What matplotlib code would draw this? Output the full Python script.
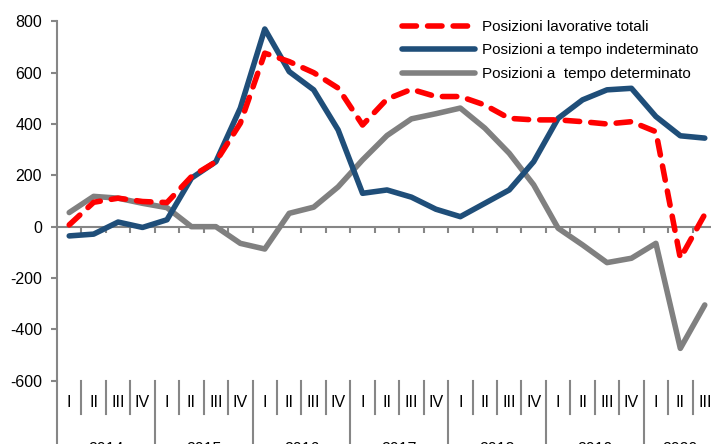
import matplotlib
matplotlib.use("Agg")
import matplotlib.pyplot as plt
from matplotlib.lines import Line2D

plt.rcParams['font.family'] = ['Liberation Sans', 'DejaVu Sans']

quarter_labels = ["I", "II", "III", "IV"] * 6 + ["I", "II", "III"]
years = ["2014", "2015", "2016", "2017", "2018", "2019", "2020"]

totali = [7, 95, 111, 98, 94, 195, 253, 403, 676, 643, 600, 540, 396, 497, 535,
          507, 507, 474, 422, 416, 416, 409, 400, 409, 370, -123, 48]
indeterminato = [-36, -29, 18, -3, 27, 189, 253, 462, 770, 604, 533, 377, 130, 143,
                 115, 68, 39, 91, 143, 253, 422, 494, 533, 539, 429, 354, 345]
determinato = [55, 118, 111, 91, 74, 0, 0, -65, -87, 52, 76, 155, 260, 355, 420,
               440, 462, 384, 286, 163, -6, -71, -140, -123, -65, -474, -305]

labels = ["Posizioni lavorative totali", "Posizioni a tempo indeterminato",
          "Posizioni a  tempo determinato"]

RED = "#FF0000"
BLUE = "#1F4E79"
GRAY = "#808080"
AX = "#868686"

W, H = 711, 444
fig = plt.figure(figsize=(W / 100, H / 100), dpi=100)
left_px, right_px, top_px, bot_px = 57, 717, 21.3, 380.7
ax = fig.add_axes([left_px / W, (H - bot_px) / H, (right_px - left_px) / W,
                   (bot_px - top_px) / H])

n = len(totali)
x = [i + 0.5 for i in range(n)]

lw = 4.0
ax.plot(x, determinato, color=GRAY, lw=lw, solid_capstyle='round', solid_joinstyle='round', zorder=3)
ax.plot(x, indeterminato, color=BLUE, lw=lw, solid_capstyle='round', solid_joinstyle='round', zorder=4)
ax.plot(x, totali, color=RED, lw=lw, dashes=(2.6, 2.0), dash_capstyle='round',
        solid_joinstyle='round', zorder=5)

ax.set_xlim(0, n)
ax.set_ylim(-600, 800)
ax.set_yticks(range(-600, 801, 200))
ax.set_yticklabels([str(v) for v in range(-600, 801, 200)], fontsize=11.5)

for s in ['top', 'right']:
    ax.spines[s].set_visible(False)
ax.spines['bottom'].set_position(('data', 0))
ax.spines['bottom'].set_color(AX)
ax.spines['bottom'].set_linewidth(1.5)
ax.spines['left'].set_color(AX)
ax.spines['left'].set_linewidth(1.5)
ax.spines['left'].set_zorder(1)

ax.set_xticks(range(1, n + 1))
ax.set_xticklabels([])
ax.tick_params(axis='x', direction='out', length=4, width=1.5, color=AX)
ax.tick_params(axis='y', direction='out', length=4.3, width=1.5, color=AX, pad=6.5)

# multi-level category labels below plot
trans = ax.get_xaxis_transform()
ah = bot_px - top_px
def ay(py):
    return (bot_px - py) / ah

for k in range(0, n + 1):
    if k % 4 == 0:
        ax.plot([k, k], [0, ay(460)], transform=trans, color=AX, lw=1.5, clip_on=False)
    else:
        ax.plot([k, k], [0, ay(414)], transform=trans, color=AX, lw=1.5, clip_on=False)

for i, q in enumerate(quarter_labels):
    ax.text(i + 0.5, ay(402.5), q, transform=trans, ha='center', va='center', fontsize=11.5)

for j, yr in enumerate(years):
    start = 4 * j
    end = min(4 * j + 4, n)
    ax.text((start + end) / 2, ay(449), yr, transform=trans, ha='center', va='center', fontsize=11.5)

handles = [Line2D([], [], color=RED, lw=lw, dashes=(2.6, 2.0), dash_capstyle='round'),
           Line2D([], [], color=BLUE, lw=lw, solid_capstyle='round'),
           Line2D([], [], color=GRAY, lw=lw, solid_capstyle='round')]
fig.legend(handles, labels, loc='upper left', bbox_to_anchor=(401.7 / W, 1 - 20 / H),
           frameon=False, fontsize=11, handlelength=4.8, handletextpad=0.45,
           labelspacing=0.62, borderpad=0, borderaxespad=0)

fig.savefig("out.png", dpi=100)
